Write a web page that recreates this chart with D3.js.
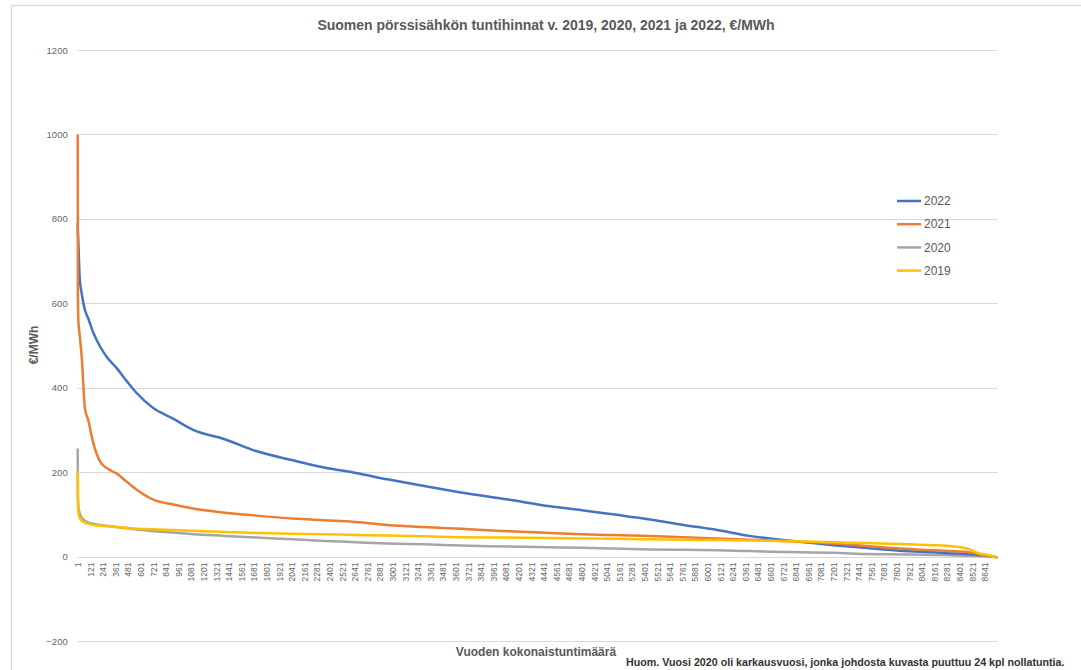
<!DOCTYPE html>
<html>
<head>
<meta charset="utf-8">
<script src="https://cdn.jsdelivr.net/npm/d3@7"></script>
<style>
  html, body { margin: 0; padding: 0; background: #fff; }
  svg { display: block; }
</style>
</head>
<body>
<svg id="chart" width="1081" height="670"></svg>
<script>
// ---------- DATA ----------
const title = "Suomen pörssisähkön tuntihinnat v. 2019, 2020, 2021 ja 2022, €/MWh";
const yTitle = "€/MWh";
const xTitle = "Vuoden kokonaistuntimäärä";
const footnote = "Huom. Vuosi 2020 oli karkausvuosi, jonka johdosta kuvasta puuttuu 24 kpl nollatuntia.";

const seriesNames = ["2022", "2021", "2020", "2019"];
const seriesColors = ["#4472C4", "#ED7D31", "#A5A5A5", "#FFC000"];

// hour rank (x category) at which values were read
const hours = [1, 3, 8, 20, 40, 70, 100, 150, 215, 280, 370, 470, 560, 720, 900, 1100, 1400, 1700, 2050, 2350, 2650, 2950, 3300, 3650, 4100, 4500, 4800, 5100, 5450, 5770, 6090, 6400, 6720, 6880, 7200, 7520, 7830, 8150, 8300, 8470, 8580, 8700, 8760];

const values2022 = [790, 770, 740, 660, 622, 584, 565, 530, 497, 472, 447, 415, 388, 352, 328, 300, 278, 250, 228, 211, 198, 183, 167, 152, 135, 119, 110, 100, 88, 75, 63, 49, 39, 35, 27, 20, 14, 10, 8, 6, 4, 1, -2];
const values2021 = [1000, 620, 555, 525, 470, 350, 325, 268, 225, 209, 197, 177, 159, 135, 124, 114, 104, 97, 90, 86, 82, 75, 70, 66, 60, 56, 53, 51, 49, 46, 43, 40, 37, 35, 31, 25, 19, 15, 13, 11, 6, 1, -2];
const values2020 = [256, 140, 118, 103, 92, 85, 81, 78, 75, 73, 70, 67, 64, 60, 57, 53, 49, 45, 41, 37, 34, 31, 29, 26, 24, 22, 21, 19, 17, 16, 15, 13, 11, 10, 9, 6, 5, 4, 3, 2, 1, 0, -2];
const values2019 = [203, 125, 105, 92, 85, 80, 78, 75, 73, 72, 70, 68, 66, 65, 63, 61, 58, 56, 54, 53, 51, 50, 48, 46, 45, 44, 43, 42, 41, 40, 39, 38, 37, 36, 34, 32, 30, 27, 25, 19, 8, 2, -3];

const yTicks = [-200, 0, 200, 400, 600, 800, 1000, 1200];
const xTickLabels = d3.range(1, 8761, 120); // 1, 121, 241, ... 8641
const hourCount = 8760;

// ---------- LAYOUT ----------
const svg = d3.select("#chart");
const plot = { left: 77.7, right: 997.5, top: 50, bottom: 641 };

const x = d3.scaleLinear().domain([1, hourCount]).range([plot.left, plot.right]);
const y = d3.scaleLinear().domain([-200, 1200]).range([plot.bottom, plot.top]);

const gray = "#595959";
const font = "'Liberation Sans', Arial, sans-serif";

// chart border
svg.append("rect")
  .attr("x", 11.5).attr("y", 5.5).attr("width", 1100).attr("height", 700)
  .attr("fill", "none").attr("stroke", "#d9d9d9").attr("stroke-width", 1.2);

// title
svg.append("text")
  .attr("x", 546).attr("y", 30)
  .attr("text-anchor", "middle")
  .attr("font-family", font).attr("font-size", 14).attr("font-weight", "bold")
  .attr("fill", gray)
  .text(title);

// gridlines + y axis labels
const yAxis = d3.axisLeft(y).tickValues(yTicks).tickSize(0).tickPadding(10).tickFormat(d3.format("d"));
const gy = svg.append("g").attr("transform", `translate(${plot.left},0)`).call(yAxis);
gy.select(".domain").remove();
gy.selectAll("text").attr("font-family", font).attr("font-size", 9.5).attr("fill", "#666");

svg.append("g").selectAll("line").data(yTicks).join("line")
  .attr("x1", plot.left).attr("x2", plot.right)
  .attr("y1", d => Math.round(y(d)) + 0.5).attr("y2", d => Math.round(y(d)) + 0.5)
  .attr("stroke", "#d9d9d9").attr("stroke-width", 1);

// x axis labels at y=0 line
const xAxis = d3.axisBottom(x).tickValues(xTickLabels).tickSize(0).tickFormat(d => String(d));
const gx = svg.append("g").attr("transform", `translate(0,${y(0)})`).call(xAxis);
gx.select(".domain").remove();
gx.selectAll("text")
  .attr("font-family", font).attr("font-size", 8.5).attr("fill", "#666")
  .attr("text-anchor", "end")
  .attr("transform", "rotate(-90)")
  .attr("x", -6).attr("y", 0).attr("dy", "0.32em");

// series lines
const allValues = [values2022, values2021, values2020, values2019];
const line = d3.line().x((d, i) => x(hours[i])).y(d => y(d)).curve(d3.curveMonotoneX);
const drawOrder = [2, 0, 1, 3];
drawOrder.forEach(k => {
  svg.append("path")
    .datum(allValues[k])
    .attr("fill", "none")
    .attr("stroke", seriesColors[k])
    .attr("stroke-width", 2.5)
    .attr("stroke-linejoin", "round")
    .attr("d", line);
});

// legend
const legend = svg.append("g");
seriesNames.forEach((name, i) => {
  const ly = 201 + i * 23.2;
  legend.append("line")
    .attr("x1", 897).attr("x2", 921).attr("y1", ly).attr("y2", ly)
    .attr("stroke", seriesColors[i]).attr("stroke-width", 2.5);
  legend.append("text")
    .attr("x", 924).attr("y", ly).attr("dy", "0.35em")
    .attr("font-family", font).attr("font-size", 12).attr("fill", gray)
    .text(name);
});

// y axis title
svg.append("text")
  .attr("transform", "translate(38,345) rotate(-90)")
  .attr("text-anchor", "middle")
  .attr("font-family", font).attr("font-size", 12).attr("font-weight", "bold")
  .attr("fill", gray)
  .text(yTitle);

// x axis title
svg.append("text")
  .attr("x", 536).attr("y", 656)
  .attr("text-anchor", "middle")
  .attr("font-family", font).attr("font-size", 12).attr("font-weight", "bold")
  .attr("fill", gray)
  .text(xTitle);

// footnote
svg.append("text")
  .attr("x", 626).attr("y", 666)
  .attr("font-family", font).attr("font-size", 10.7).attr("font-weight", "bold")
  .attr("fill", "#333")
  .text(footnote);
</script>
</body>
</html>
